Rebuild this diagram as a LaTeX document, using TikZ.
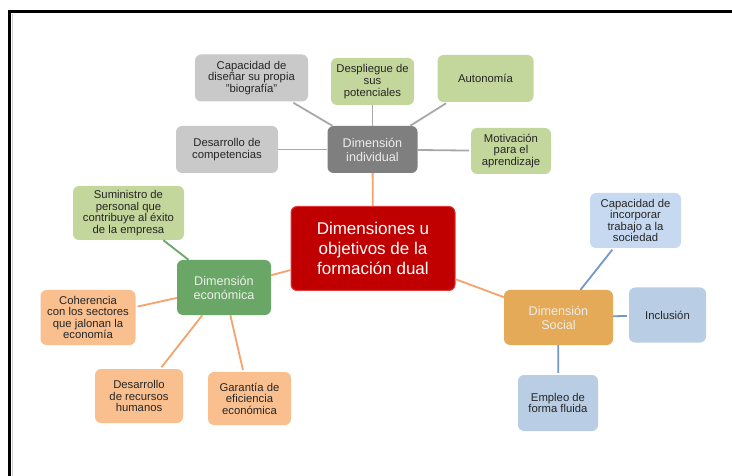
\documentclass[tikz,border=0pt]{standalone}
\usepackage{fontspec}
\setmainfont{Liberation Sans}
\definecolor{txt}{HTML}{262626}
\definecolor{redbox}{HTML}{C00000}
\definecolor{rededge}{HTML}{E03A3A}
\definecolor{graydim}{HTML}{7F7F7F}
\definecolor{graylt}{HTML}{C9C9C9}
\definecolor{greenlt}{HTML}{C3D69B}
\definecolor{greendim}{HTML}{6AA767}
\definecolor{orangelt}{HTML}{F9BF8F}
\definecolor{golddim}{HTML}{E4AA58}
\definecolor{bluelt}{HTML}{B9CDE5}
\definecolor{bluelt2}{HTML}{C6D9F0}
\definecolor{oline}{HTML}{F3A36B}
\definecolor{gline}{HTML}{A8A8A8}
\definecolor{bline}{HTML}{7397C8}
\definecolor{dimtxt}{HTML}{EDEDED}
\begin{document}
\begin{tikzpicture}[x=1pt,y=-1pt,
  box/.style={rounded corners=6pt, align=center, inner sep=0pt,
    font=\fontsize{11.3}{11.6}\selectfont, text=txt},
  dimbox/.style={box, font=\fontsize{12.6}{14}\selectfont, text=dimtxt},
  sz/.style 2 args={minimum width=#1, minimum height=#2},
  conn/.style={line width=1.8pt}]
\useasboundingbox (0,0) rectangle (732,476);
\fill[white] (0,0) rectangle (732,476);
\draw[line width=3pt] (9.5,476) -- (9.5,12) -- (732,12);
\draw[line width=1pt, color=gray!40] (12.5,14) -- (12.5,476);

% central
\node[box, sz={164pt}{84pt}, fill=redbox, draw=rededge, line width=1pt, text=white,
  font=\fontsize{17}{20}\selectfont] (c) at (373,248.5)
  {Dimensiones u\\objetivos de la\\formación dual};

% individual
\node[dimbox, sz={90pt}{47pt}, fill=graydim] (ind) at (372.5,149.5) {Dimensión\\individual};
\node[box, sz={113pt}{47pt}, fill=graylt] (bio) at (251.5,78) {Capacidad de\\diseñar su propia\\"biografía"};
\node[box, sz={102pt}{47pt}, fill=graylt] (comp) at (227,149.5) {Desarrollo de\\competencias};
\node[box, sz={83pt}{47pt}, fill=greenlt] (desp) at (372.5,81.5) {Despliegue de\\sus\\potenciales};
\node[box, sz={96pt}{47pt}, fill=greenlt] (auto) at (485.5,78.5) {Autonomía};
\node[box, sz={80pt}{46pt}, fill=greenlt] (mot) at (511,151) {Motivación\\para el\\aprendizaje};

% economica
\node[dimbox, sz={94pt}{55pt}, fill=greendim] (eco) at (224,287.5) {Dimensión\\económica};
\node[box, sz={111pt}{54pt}, fill=greenlt] (sum) at (128.5,213) {Suministro de\\personal que\\contribuye al éxito\\de la empresa};
\node[box, sz={95pt}{55pt}, fill=orangelt] (coh) at (88,317.5) {Coherencia\\con los sectores\\que jalonan la\\economía};
\node[box, sz={88pt}{54pt}, fill=orangelt] (drh) at (139,396) {Desarrollo\\de recursos\\humanos};
\node[box, sz={83pt}{53pt}, fill=orangelt] (gar) at (249.5,398.5) {Garantía de\\eficiencia\\económica};

% social
\node[dimbox, sz={109pt}{55pt}, fill=golddim] (soc) at (558.5,317.5) {Dimensión\\Social};
\node[box, sz={91pt}{55pt}, fill=bluelt2] (inc) at (635.5,220.5) {Capacidad de\\incorporar\\trabajo a la\\sociedad};
\node[box, sz={77pt}{55pt}, fill=bluelt] (incl) at (667.5,315) {Inclusión};
\node[box, sz={80pt}{56pt}, fill=bluelt] (emp) at (558,403) {Empleo de\\forma fluida};

% connectors
\draw[conn, oline] (c) -- (ind);
\draw[conn, oline] (c) -- (eco);
\draw[conn, oline] (c) -- (soc);

\draw[conn, gline, shorten >=2pt] (ind) -- (bio);
\draw[conn, gline] (ind) -- (comp);
\draw[conn, gline] (ind) -- (desp);
\draw[conn, gline, shorten >=2pt] (ind) -- (auto);
\draw[conn, gline, shorten >=2pt] (ind) -- (mot);

\draw[conn, greendim] (eco) -- (sum);
\draw[conn, oline, shorten >=2pt] (eco) -- (coh);
\draw[conn, oline, shorten >=2pt] (eco) -- (drh);
\draw[conn, oline, shorten >=2pt] (eco) -- (gar);

\draw[conn, bline, shorten >=2pt] (soc) -- (inc);
\draw[conn, bline, shorten >=2pt] (soc) -- (incl);
\draw[conn, bline, shorten >=2pt] (soc) -- (emp);
\end{tikzpicture}
\end{document}
